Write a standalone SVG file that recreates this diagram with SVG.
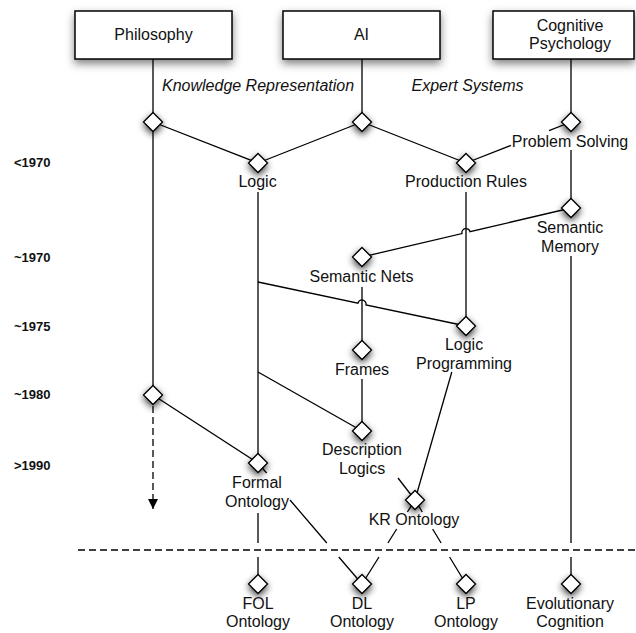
<svg xmlns="http://www.w3.org/2000/svg" xmlns:xlink="http://www.w3.org/1999/xlink" width="636" height="633" viewBox="0 0 636 633">
<defs>
<filter id="shd" x="-80%" y="-80%" width="260%" height="260%">
<feDropShadow dx="0" dy="3" stdDeviation="3.5" flood-color="#000" flood-opacity="0.75"/>
</filter>
<filter id="bshd" x="-20%" y="-30%" width="140%" height="180%">
<feDropShadow dx="0" dy="4" stdDeviation="4" flood-color="#000" flood-opacity="0.5"/>
</filter>
<path id="dm" d="M0,-9.5 L9.5,0 L0,9.5 L-9.5,0Z"/>
<marker id="arr" viewBox="0 0 10 10" refX="10" refY="5" markerWidth="10" markerHeight="10" markerUnits="userSpaceOnUse" orient="auto">
<path d="M0,0 L10,5 L0,10Z" fill="#000"/>
</marker>
<style>
.box{fill:#fff;stroke:#000;stroke-width:1.5;filter:url(#bshd)}
.dia{fill:#fff;stroke:#000;stroke-width:1.3;filter:url(#shd)}
.t{font-family:"Liberation Sans",Arial,sans-serif;font-size:16px;fill:#111;text-anchor:middle}
.it{font-family:"Liberation Sans",Arial,sans-serif;font-size:16px;font-style:italic;fill:#111}
.yr{font-family:"Liberation Sans",Arial,sans-serif;font-size:13px;font-weight:bold;fill:#111}
.c{fill:none;stroke:#000;stroke-width:1.3}
.dash{fill:none;stroke:#000;stroke-width:1.3;stroke-dasharray:7,4}
</style>
</defs>
<rect width="636" height="633" fill="#fff"/>

<g id="connectors">
<path class="c" d="M153,59 V122"/>
<path class="c" d="M153,122 V395"/>
<path class="dash" d="M153,395 V509" marker-end="url(#arr)"/>
<path class="c" d="M153,122 L258,163"/>
<path class="c" d="M362,59 V122"/>
<path class="c" d="M362,122 L258,163"/>
<path class="c" d="M362,122 L466,163"/>
<path class="c" d="M571,59 V122"/>
<path class="c" d="M571,122 L549,130.6"/>
<path class="c" d="M511,145.4 L466,163"/>
<path class="c" d="M571,150 V208"/>
<path class="c" d="M466,192 V326"/>
<path class="c" d="M571,208 L470,231.7 A4,4 0 0 0 462,233.6 L362,257"/>
<path class="c" d="M258,192 V463"/>
<path class="c" d="M258,282 L358,303.2 A4,4 0 0 1 366,304.9 L466,326"/>
<path class="c" d="M258,372 L362,431"/>
<path class="c" d="M362,287 V350"/>
<path class="c" d="M362,379 V431"/>
<path class="c" d="M153,395 L258,463"/>
<path class="c" d="M571,256 V543 M571,557 V584"/>
<path class="c" d="M258,513 V543 M258,557 V584"/>
<path class="c" d="M258,463 L266.6,473 M290,500 L326.8,543 M338.8,557 L362,584"/>
<path class="c" d="M415,500 L407.4,512 M396.7,529 L387.9,543 M379,557 L362,584"/>
<path class="c" d="M415,500 L422.3,512 M432.6,529 L441.1,543 M449.6,557 L466,584"/>
<path class="c" d="M398,478 L415,500"/>
<path class="c" d="M451.8,372 L415,500"/>
<path class="dash" d="M78,550 H636"/>
</g>

<g id="philosophy"><rect class="box" x="75" y="11" width="157" height="48"/><text class="t" x="153.5" y="40">Philosophy</text></g>
<g id="ai"><rect class="box" x="283" y="11" width="157" height="48"/><text class="t" x="361.5" y="40">AI</text></g>
<g id="cognitive-psychology"><rect class="box" x="493" y="11" width="141" height="48"/><text class="t" x="570" y="31">Cognitive</text><text class="t" x="570" y="49">Psychology</text></g>

<g id="label-kr"><text class="it" x="162" y="91">Knowledge Representation</text></g>
<g id="label-es"><text class="it" x="411.5" y="91">Expert Systems</text></g>

<g id="years">
<text class="yr" x="14" y="167">&lt;1970</text>
<text class="yr" x="14" y="262">~1970</text>
<text class="yr" x="14" y="331">~1975</text>
<text class="yr" x="14" y="399">~1980</text>
<text class="yr" x="14" y="470">&gt;1990</text>
</g>

<g id="phil-split"><use href="#dm" class="dia" x="153" y="122"/></g>
<g id="ai-split"><use href="#dm" class="dia" x="362" y="122"/></g>
<g id="problem-solving"><use href="#dm" class="dia" x="571" y="122"/><text class="t" x="570" y="147">Problem Solving</text></g>
<g id="logic"><use href="#dm" class="dia" x="258" y="163"/><text class="t" x="257.5" y="187">Logic</text></g>
<g id="production-rules"><use href="#dm" class="dia" x="466" y="163"/><text class="t" x="466" y="187">Production Rules</text></g>
<g id="semantic-memory"><use href="#dm" class="dia" x="571" y="208"/><text class="t" x="570" y="233">Semantic</text><text class="t" x="570" y="252">Memory</text></g>
<g id="semantic-nets"><use href="#dm" class="dia" x="362" y="257"/><text class="t" x="361.5" y="282">Semantic Nets</text></g>
<g id="logic-programming"><use href="#dm" class="dia" x="466" y="326"/><text class="t" x="464" y="350">Logic</text><text class="t" x="464" y="369">Programming</text></g>
<g id="frames"><use href="#dm" class="dia" x="362" y="350"/><text class="t" x="362" y="375">Frames</text></g>
<g id="phil-1980"><use href="#dm" class="dia" x="153" y="395"/></g>
<g id="description-logics"><use href="#dm" class="dia" x="362" y="431"/><text class="t" x="362" y="455">Description</text><text class="t" x="362" y="474">Logics</text></g>
<g id="formal-ontology"><use href="#dm" class="dia" x="258" y="463"/><text class="t" x="257" y="488">Formal</text><text class="t" x="257" y="507">Ontology</text></g>
<g id="kr-ontology"><use href="#dm" class="dia" x="415" y="500"/><text class="t" x="414" y="525">KR Ontology</text></g>
<g id="fol-ontology"><use href="#dm" class="dia" x="258" y="584"/><text class="t" x="258" y="609">FOL</text><text class="t" x="258" y="627">Ontology</text></g>
<g id="dl-ontology"><use href="#dm" class="dia" x="362" y="584"/><text class="t" x="362" y="609">DL</text><text class="t" x="362" y="627">Ontology</text></g>
<g id="lp-ontology"><use href="#dm" class="dia" x="466" y="584"/><text class="t" x="466" y="609">LP</text><text class="t" x="466" y="627">Ontology</text></g>
<g id="evolutionary-cognition"><use href="#dm" class="dia" x="571" y="584"/><text class="t" x="570" y="609">Evolutionary</text><text class="t" x="570" y="627">Cognition</text></g>
</svg>
